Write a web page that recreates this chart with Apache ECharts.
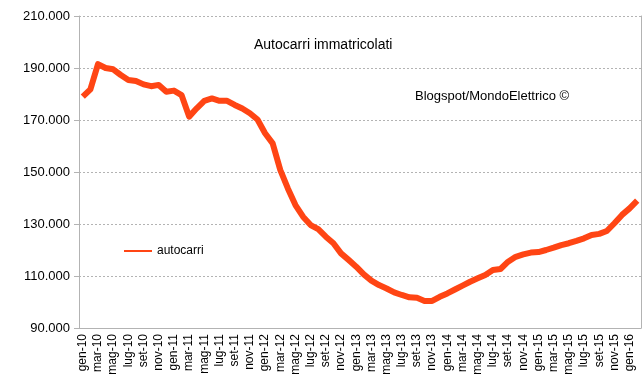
<!DOCTYPE html>
<html><head><meta charset="utf-8">
<script src="https://cdn.jsdelivr.net/npm/echarts@6/dist/echarts.min.js"></script>
<style>html,body{margin:0;padding:0;background:#fff}#c{width:642px;height:384px}</style>
</head><body><div id="c"></div>
<script>
const monthNames = ['gen','feb','mar','apr','mag','giu','lug','ago','set','ott','nov','dic'];
const years = ['10','11','12','13','14','15','16'];
const categories = [];
for (const y of years) for (const m of monthNames) categories.push(m + '-' + y);
categories.length = 74; // gen-10 .. feb-16
const autocarri = [
179000,181800,191500,190000,189500,187300,185400,185000,183700,183000,183500,180900,
181300,179600,171300,174500,177400,178300,177400,177400,175800,174400,172600,170200,
164900,161000,150800,143700,137300,132800,129600,128000,125100,122600,118700,116200,
113600,110600,108200,106500,105200,103700,102700,101800,101600,100400,100400,102000,
103300,104800,106300,107800,109100,110400,112300,112700,115500,117400,118300,119000,
119200,120000,120900,121900,122600,123500,124500,125800,126200,127300,130300,133500,
136000,139000
];
const seriesName = 'autocarri';
const titleText = 'Autocarri immatricolati';
const noteText = 'Blogspot/MondoElettrico \u00a9';

const chart = echarts.init(document.getElementById('c'), null, {renderer:'canvas'});
const FF = '"Liberation Sans", Arial, sans-serif';
chart.setOption({
  animation:false,
  backgroundColor:'#fff',
  grid:{left:79,right:1,top:16,bottom:56,containLabel:false},
  title:{text:titleText,left:249,top:33,textStyle:{fontFamily:FF,fontSize:14,fontWeight:'normal',color:'#000'}},
  graphic:[{type:'text',left:415,top:90,style:{text:noteText,font:'13px '+FF,fill:'#000'}}],
  legend:{data:[seriesName],left:124,top:245,padding:0,icon:'rect',itemWidth:28,itemHeight:2,itemGap:4,
    textStyle:{fontFamily:FF,fontSize:12,color:'#000'}},
  xAxis:{type:'category',data:categories,boundaryGap:true,
    axisLine:{lineStyle:{color:'#b3b3b3',width:1}},
    axisTick:{interval:0,length:5,lineStyle:{color:'#b3b3b3'}},
    axisLabel:{interval:1,rotate:90,margin:6,fontFamily:FF,fontSize:12,color:'#000'}},
  yAxis:[{type:'value',min:90000,max:210000,interval:20000,
    axisLine:{show:true,lineStyle:{color:'#b3b3b3'}},
    axisTick:{show:true,length:5,lineStyle:{color:'#b3b3b3'}},
    splitLine:{lineStyle:{color:'#b3b3b3',type:[2,2]}},
    axisLabel:{margin:9,fontFamily:FF,fontSize:13,color:'#000',
      formatter:v=>(v/1000).toFixed(0)+'.000'}},
    {type:'value',position:'right',min:90000,max:210000,interval:20000,
    axisLine:{show:true,lineStyle:{color:'#b3b3b3'}},axisTick:{show:false},axisLabel:{show:false},splitLine:{show:false}}],
  series:[{name:seriesName,type:'line',data:autocarri,symbol:'none',smooth:false,
    lineStyle:{color:'#ff4514',width:6,join:'round'},itemStyle:{color:'#ff4514'}}]
});
</script></body></html>
